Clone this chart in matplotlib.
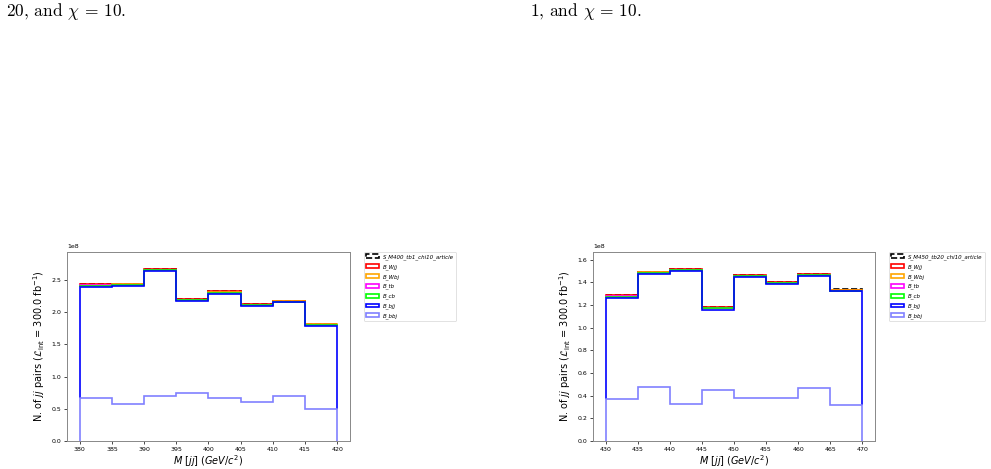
import matplotlib
matplotlib.use("Agg")
import matplotlib.pyplot as plt
import numpy as np

plt.rcParams["mathtext.fontset"] = "dejavusans"

# ---- data (units of 1e8 jj pairs) ----
labels_bkg = ["B_bbj", "B_bjj", "B_cb", "B_tb", "B_Wbj", "B_Wjj"]
colors = [(0.5, 0.5, 1.0), "blue", "lime", "magenta", "orange", "red", "black"]

edges_400 = [380, 385, 390, 395, 400, 405, 410, 415, 420]
bbj_400 = [0.660, 0.567, 0.696, 0.742, 0.665, 0.598, 0.706, 0.500]
bjj_400 = [1.737, 1.843, 1.938, 1.433, 1.619, 1.495, 1.444, 1.289]
cb_400 = [0.016, 0.013, 0.015, 0.012, 0.018, 0.013, 0.012, 0.013]
tb_400 = [0.002, 0.002, 0.002, 0.002, 0.002, 0.002, 0.002, 0.002]
wbj_400 = [0.006, 0.005, 0.006, 0.004, 0.006, 0.005, 0.004, 0.005]
wjj_400 = [0.014, 0.010, 0.010, 0.009, 0.012, 0.012, 0.009, 0.012]
sig_400 = [0.0, 0.0, 0.0, 0.0, 0.0, 0.0, 0.0, 0.0]

edges_450 = [430, 435, 440, 445, 450, 455, 460, 465, 470]
bbj_450 = [0.367, 0.478, 0.328, 0.446, 0.378, 0.378, 0.469, 0.320]
bjj_450 = [0.897, 1.000, 1.171, 0.715, 1.071, 1.006, 0.988, 1.002]
cb_450 = [0.011, 0.007, 0.008, 0.010, 0.007, 0.010, 0.006, 0.004]
tb_450 = [0.001, 0.001, 0.001, 0.001, 0.001, 0.001, 0.001, 0.001]
wbj_450 = [0.004, 0.003, 0.003, 0.003, 0.003, 0.004, 0.004, 0.002]
wjj_450 = [0.007, 0.005, 0.006, 0.005, 0.004, 0.004, 0.005, 0.005]
sig_450 = [0.0, 0.0, 0.0, 0.0, 0.0, 0.0, 0.0, 0.004]


def draw_panel(ax, edges, comps, sig_label):
    edges = np.asarray(edges, dtype=float)
    centers = 0.5 * (edges[:-1] + edges[1:])
    weights = [np.asarray(c) * 1e8 for c in comps]
    _, _, patches = ax.hist(
        [centers] * len(weights), bins=edges, weights=weights,
        stacked=True, histtype="step", color=colors,
        label=labels_bkg + [sig_label], linewidth=1.2,
    )
    patches[-1][0].set_linestyle("--")
    total = np.sum(weights, axis=0)
    ax.set_ylim(0, 1.1 * total.max())
    ax.set_xticks(edges)
    ax.tick_params(labelsize=4.5, length=2, width=0.5, pad=2)
    ax.yaxis.get_offset_text().set_fontsize(4.5)
    for sp in ax.spines.values():
        sp.set_color("#888888")
        sp.set_linewidth(0.7)
    ax.set_xlabel(r"$M$ [$jj$] $(GeV/c^2)$", fontsize=7, labelpad=1)
    ax.set_ylabel(r"N. of $jj$ pairs ($\mathcal{L}_{\rm int}$ = 300.0 fb$^{-1}$)",
                  fontsize=7, labelpad=3)
    leg = ax.legend(loc="upper left", bbox_to_anchor=(1.05, 1.0),
                    prop={"style": "italic", "size": 4}, borderaxespad=0,
                    handlelength=2.2, labelspacing=0.75, frameon=True)
    leg.get_frame().set_linewidth(0.5)


W, H = 991, 469
fig = plt.figure(figsize=(W / 100, H / 100), dpi=100)

with plt.rc_context({"mathtext.fontset": "cm"}):
    fig.text(6 / W, 1 - 12 / H, r"20, and $\chi$ = 10.", fontsize=12.5,
             family="cmr10", va="center", ha="left")
    fig.text(530 / W, 1 - 12 / H, r"1, and $\chi$ = 10.", fontsize=12.5,
             family="cmr10", va="center", ha="left")

ax1 = fig.add_axes([67 / W, (H - 441) / H, 283 / W, 189 / H])
draw_panel(ax1, edges_400,
           [bbj_400, bjj_400, cb_400, tb_400, wbj_400, wjj_400, sig_400],
           "S_M400_tb1_chi10_article")

ax2 = fig.add_axes([593 / W, (H - 441) / H, 282 / W, 189 / H])
draw_panel(ax2, edges_450,
           [bbj_450, bjj_450, cb_450, tb_450, wbj_450, wjj_450, sig_450],
           "S_M450_tb20_chi10_article")

fig.savefig("out.png", dpi=100)
